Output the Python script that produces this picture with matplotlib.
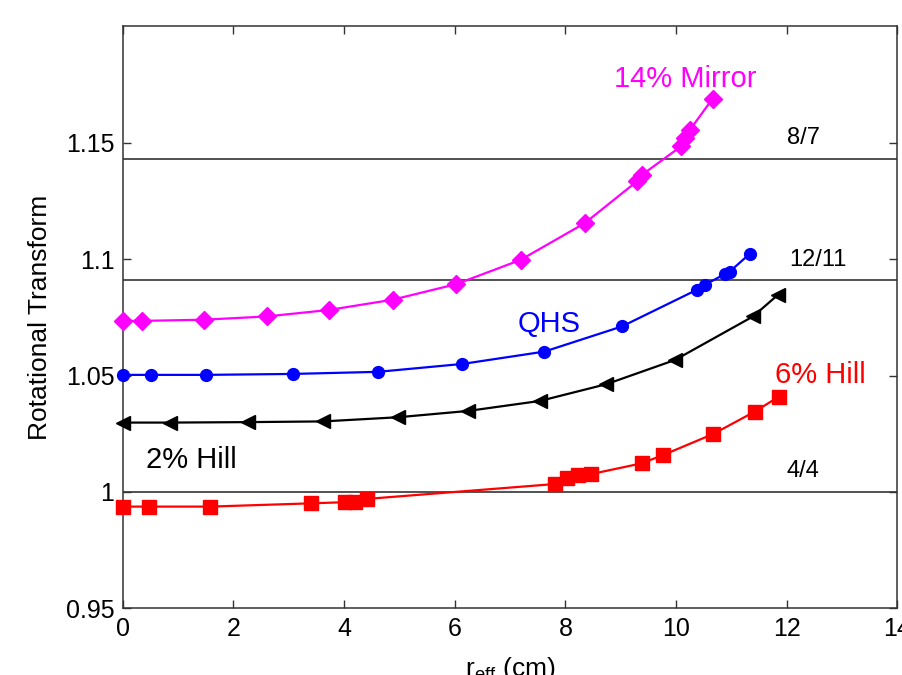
import matplotlib
matplotlib.use("Agg")
import matplotlib.pyplot as plt

plt.rcParams['font.family'] = ['Liberation Sans', 'DejaVu Sans']
plt.rcParams['mathtext.fontset'] = 'custom'
plt.rcParams['mathtext.rm'] = 'Liberation Sans'

# 14% Mirror
mirror_x = [0.0, 0.35, 1.47, 2.60, 3.73, 4.88, 6.03, 7.19, 8.35, 9.29, 9.38,
            10.09, 10.16, 10.25, 10.66]
mirror_y = [1.0735, 1.0735, 1.0740, 1.0754, 1.0782, 1.0826, 1.0893, 1.0997,
            1.1155, 1.1334, 1.1362, 1.1485, 1.1521, 1.1556, 1.1690]

# QHS
qhs_x = [0.0, 0.52, 1.50, 3.07, 4.61, 6.14, 7.62, 9.02, 10.37, 10.52, 10.88,
         10.97, 11.33]
qhs_y = [1.0503, 1.0503, 1.0503, 1.0507, 1.0516, 1.0550, 1.0603, 1.0711,
         1.0868, 1.0890, 1.0936, 1.0947, 1.1023]

# 2% Hill
hill2_x = [0.0, 0.85, 2.27, 3.62, 4.98, 6.24, 7.54, 8.74, 9.98, 11.39, 11.84]
hill2_y = [1.0298, 1.0298, 1.0300, 1.0303, 1.0321, 1.0348, 1.0391, 1.0463,
           1.0567, 1.0754, 1.0847]

# 6% Hill
hill6_x = [0.0, 0.475, 1.58, 3.40, 4.02, 4.20, 4.41, 7.81, 8.02, 8.23, 8.47,
           9.38, 9.77, 10.67, 11.42, 11.86]
hill6_y = [0.9937, 0.9937, 0.9937, 0.9951, 0.9956, 0.9958, 0.9970, 1.0034,
           1.0059, 1.0073, 1.0077, 1.0123, 1.0159, 1.0249, 1.0345, 1.0410]

# rational surfaces
res_vals = [8 / 7, 12 / 11, 4 / 4]
res_labels = ['8/7', '12/11', '4/4']
res_label_x = [12.30, 12.57, 12.29]
res_label_y = [1.1496, 1.0969, 1.0063]

yticks = [0.95, 1.0, 1.05, 1.1, 1.15]
ytick_labels = ['0.95', '1', '1.05', '1.1', '1.15']
xticks = [0, 2, 4, 6, 8, 10, 12, 14]

fig = plt.figure(figsize=(9.02, 6.75), dpi=100)
ax = fig.add_axes([0.136, 0.0988, 0.859, 0.862])

for v in res_vals:
    ax.axhline(v, color='#222222', lw=1.1, zorder=1)

ax.plot(mirror_x, mirror_y, '-D', color='#FF00FF', lw=1.6, ms=9, clip_on=False, zorder=3)
ax.plot(qhs_x, qhs_y, '-o', color='#0000FF', lw=1.6, ms=8.5, clip_on=False, zorder=3)
ax.plot(hill2_x, hill2_y, '-<', color='black', lw=1.6, ms=10, clip_on=False, zorder=3)
ax.plot(hill6_x, hill6_y, '-s', color='#FF0000', lw=1.6, ms=9.5, clip_on=False, zorder=3)

ax.text(10.17, 1.174, '14% Mirror', color='#FF00FF', fontsize=21, ha='center', va='baseline')
ax.text(7.70, 1.0689, 'QHS', color='#0000FF', fontsize=21, ha='center', va='baseline')
ax.text(1.235, 1.0104, '2% Hill', color='black', fontsize=21, ha='center', va='baseline')
ax.text(12.61, 1.047, '6% Hill', color='#FF0000', fontsize=21, ha='center', va='baseline')

for lx, ly, lab in zip(res_label_x, res_label_y, res_labels):
    ax.text(lx, ly, lab, color='black', fontsize=17, ha='center', va='baseline')

ax.set_xlim(0, 14)
ax.set_ylim(0.95, 1.2)
ax.set_xticks(xticks)
ax.set_yticks(yticks)
ax.set_yticklabels(ytick_labels)
ax.tick_params(direction='in', length=6, width=1, labelsize=18, top=True, right=True,
               colors='#333333', labelcolor='black', pad=6)
for s in ax.spines.values():
    s.set_color('#333333')
    s.set_linewidth(1.1)

ax.set_xlabel(r'r$_{\rm eff}$ (cm)', fontsize=19, labelpad=10)
ax.set_ylabel('Rotational Transform', fontsize=19, labelpad=10)

fig.savefig('out.png', dpi=100)
